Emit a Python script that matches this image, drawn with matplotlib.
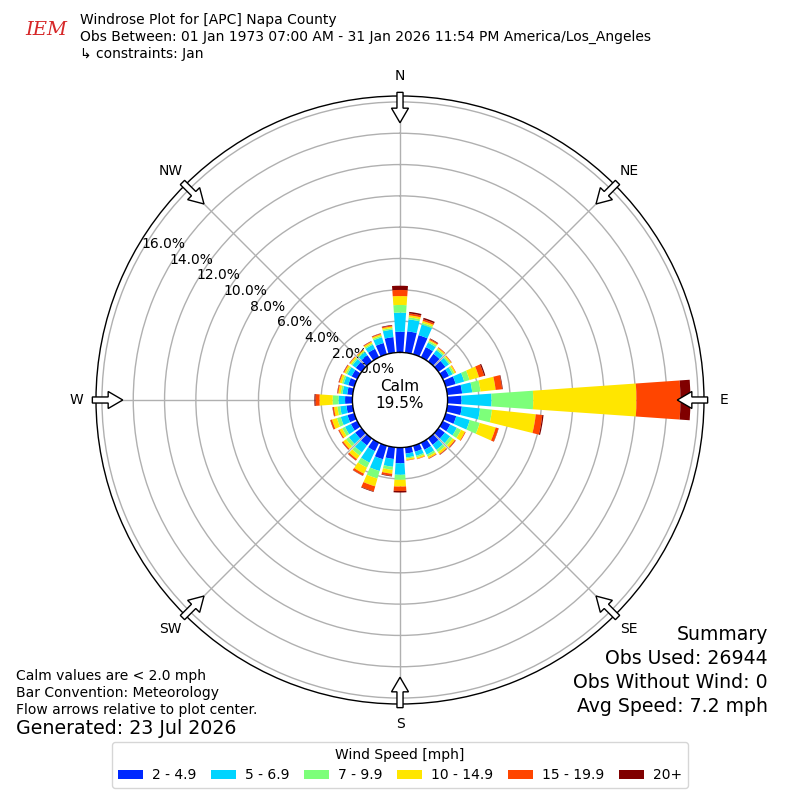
import numpy as np
import matplotlib
matplotlib.use("Agg")
import matplotlib.pyplot as plt
from matplotlib.patches import FancyArrow, Patch

# ---------------- data ----------------
directions = list(range(0, 360, 10))  # degrees (meteorological, from)
bin_labels = ["2 - 4.9", "5 - 6.9", "7 - 9.9", "10 - 14.9", "15 - 19.9", "20+"]
bin_colors = ["#0028ff", "#00d4ff", "#7dff7a", "#ffe600", "#ff4500", "#800000"]

# percent frequency per direction for each speed bin
spd_2_5 = [1.32, 1.37, 1.27, 0.72, 0.60, 0.55, 0.45, 0.66, 0.95, 0.89, 0.93, 0.70,
           0.53, 0.50, 0.50, 0.50, 0.40, 0.40, 1.00, 0.75, 0.90, 0.60, 0.55, 0.50,
           0.45, 0.45, 0.40, 0.47, 0.35, 0.40, 0.40, 0.45, 0.50, 0.60, 0.75, 1.00]
spd_5_7 = [1.22, 0.77, 0.71, 0.32, 0.30, 0.28, 0.25, 0.57, 0.65, 1.92, 1.17, 0.90,
           0.47, 0.42, 0.40, 0.35, 0.27, 0.25, 0.74, 0.50, 0.78, 0.81, 0.55, 0.50,
           0.42, 0.45, 0.40, 0.42, 0.30, 0.30, 0.30, 0.27, 0.25, 0.30, 0.38, 0.48]
spd_7_10 = [0.49, 0.13, 0.11, 0.11, 0.10, 0.10, 0.12, 0.35, 0.53, 2.66, 0.77, 0.66,
            0.30, 0.20, 0.18, 0.13, 0.10, 0.08, 0.32, 0.20, 0.50, 0.36, 0.25, 0.22,
            0.20, 0.25, 0.18, 0.37, 0.12, 0.12, 0.11, 0.10, 0.08, 0.09, 0.10, 0.10]
spd_10_15 = [0.57, 0.13, 0.12, 0.08, 0.08, 0.08, 0.10, 0.63, 0.97, 6.59, 2.81, 1.06,
             0.28, 0.17, 0.15, 0.12, 0.10, 0.09, 0.43, 0.25, 0.52, 0.43, 0.28, 0.23,
             0.20, 0.33, 0.22, 0.84, 0.15, 0.15, 0.12, 0.10, 0.08, 0.10, 0.10, 0.10]
spd_15_20 = [0.39, 0.12, 0.11, 0.07, 0.04, 0.03, 0.03, 0.34, 0.42, 2.81, 0.42, 0.18,
             0.05, 0.06, 0.05, 0.04, 0.03, 0.03, 0.28, 0.13, 0.33, 0.14, 0.10, 0.08,
             0.07, 0.10, 0.08, 0.26, 0.06, 0.06, 0.05, 0.04, 0.03, 0.04, 0.05, 0.06]
spd_20p = [0.27, 0.10, 0.10, 0.04, 0.01, 0.01, 0.00, 0.08, 0.04, 0.64, 0.08, 0.02,
           0.00, 0.02, 0.02, 0.01, 0.00, 0.00, 0.10, 0.04, 0.04, 0.02, 0.02, 0.02,
           0.01, 0.02, 0.02, 0.07, 0.02, 0.02, 0.02, 0.01, 0.01, 0.02, 0.02, 0.04]
speed_bins = [spd_2_5, spd_5_7, spd_7_10, spd_10_15, spd_15_20, spd_20p]

calm_pct = 19.5
r_ticks = [0, 2, 4, 6, 8, 10, 12, 14, 16]
compass_labels = ["N", "NE", "E", "SE", "S", "SW", "W", "NW"]
compass_angles = [0, 45, 90, 135, 180, 225, 270, 315]

title_lines = ["Windrose Plot for [APC] Napa County",
               "Obs Between: 01 Jan 1973 07:00 AM - 31 Jan 2026 11:54 PM America/Los_Angeles",
               "\u21b3 constraints: Jan"]
left_notes = ["Calm values are < 2.0 mph", "Bar Convention: Meteorology",
              "Flow arrows relative to plot center."]
generated = "Generated: 23 Jul 2026"
summary_lines = ["Summary", "Obs Used: 26944", "Obs Without Wind: 0", "Avg Speed: 7.2 mph"]

# ---------------- figure ----------------
plt.rcParams['font.family'] = ['DejaVu Sans']
fig = plt.figure(figsize=(8, 8), dpi=100)
ax = fig.add_axes([0.12, 0.12, 0.76, 0.76], projection='polar')
ax.set_theta_zero_location('N')
ax.set_theta_direction(-1)

theta = np.radians(directions)
width = np.radians(8)
bottom = np.zeros(len(directions))
handles = []
for vals, col, lab in zip(speed_bins, bin_colors, bin_labels):
    v = np.array(vals)
    ax.bar(theta, v, width=width, bottom=bottom, color=col, edgecolor='none',
           linewidth=0, zorder=2)
    bottom += v
    handles.append(Patch(facecolor=col, edgecolor='none', label=lab))

ax.set_ylim(0, 16.38)
ax.set_rorigin(-3.04)
ax.set_yticks(r_ticks)
ax.set_yticklabels([f"{t:.1f}%" for t in r_ticks], fontsize=10)
ax.set_rlabel_position(300)
ax.set_xticks(np.radians(compass_angles))
ax.set_xticklabels([])
ax.grid(True, color='#b0b0b0', linewidth=1, zorder=1)
ax.set_axisbelow(True)
for sp in ax.spines.values():
    sp.set_color('black')
    sp.set_linewidth(1)

# compass labels
for lab, ang in zip(compass_labels, compass_angles):
    a = np.radians(ang)
    ax.text(0.5 + 0.533 * np.sin(a), 0.5 + 0.533 * np.cos(a), lab,
            transform=ax.transAxes, ha='center', va='center', fontsize=10)

# flow arrows
for ang in compass_angles:
    a = np.radians(ang)
    r0 = 0.506
    L = 0.05
    x0 = 0.5 + r0 * np.sin(a)
    y0 = 0.5 + r0 * np.cos(a)
    arr = FancyArrow(x0, y0, -L * np.sin(a), -L * np.cos(a), width=0.010,
                     head_width=0.028, head_length=0.024, length_includes_head=True,
                     transform=ax.transAxes, facecolor='white', edgecolor='black',
                     linewidth=1, clip_on=False, zorder=5)
    ax.add_patch(arr)

ax.text(0.5, 0.508, f"Calm\n{calm_pct:.1f}%", transform=ax.transAxes,
        ha='center', va='center', fontsize=11, zorder=6)

# header
fig.text(0.032, 0.962, "IEM", color='#d62728', fontsize=14, fontstyle='italic',
         family='serif', ha='left', va='center')
for i, line in enumerate(title_lines):
    fig.text(0.1, 1 - (20 + 17 * i) / 800, line, fontsize=10, ha='left', va='center')

for i, line in enumerate(left_notes):
    fig.text(0.02, 1 - (676 + 17 * i) / 800, line, fontsize=10, ha='left', va='center')
fig.text(0.02, 1 - 729 / 800, generated, fontsize=13.7, ha='left', va='center')

for i, line in enumerate(summary_lines):
    fig.text(0.96, 1 - (635 + 24 * i) / 800, line, fontsize=13.6, ha='right', va='center')

leg = fig.legend(handles=handles, loc='center', bbox_to_anchor=(0.5, 1 - 765 / 800),
                 ncol=6, title="Wind Speed [mph]", fontsize=10, title_fontsize=10,
                 frameon=True, handlelength=1.8, handletextpad=0.65,
                 columnspacing=1.05)

fig.savefig("out.png", dpi=100)
